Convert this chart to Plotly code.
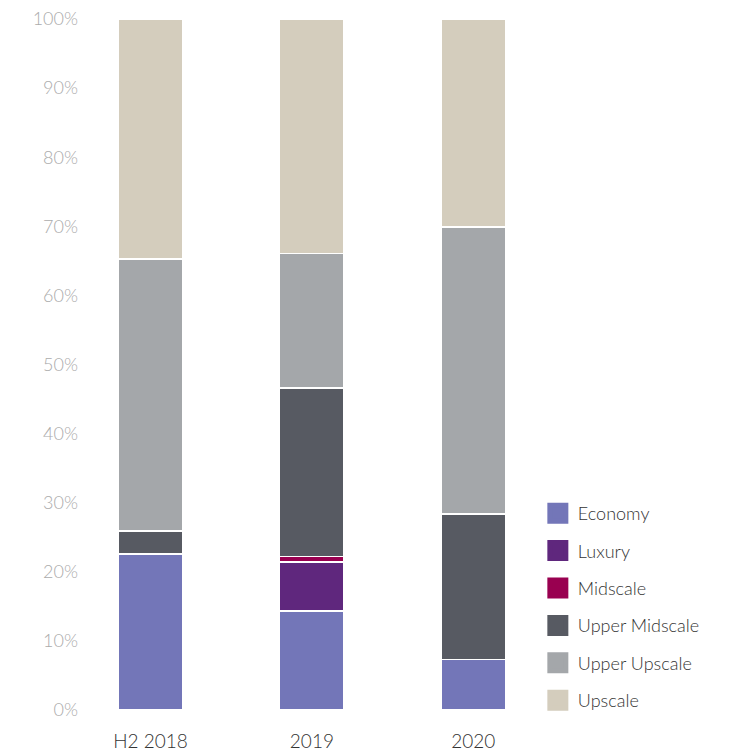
import plotly.graph_objects as go

categories = ["H2 2018", "2019", "2020"]
segments = ["Economy", "Luxury", "Midscale", "Upper Midscale", "Upper Upscale", "Upscale"]
economy = [22.6, 14.3, 7.3]
luxury = [0.0, 7.1, 0.0]
midscale = [0.0, 0.8, 0.0]
upper_midscale = [3.3, 24.4, 21.1]
upper_upscale = [39.4, 19.5, 41.5]
upscale = [34.7, 33.9, 30.1]
colors = ["#7376b8", "#5f277d", "#990050", "#575a62", "#a4a7aa", "#d4cdbd"]
y_ticks = list(range(0, 101, 10))
y_tick_text = [f"{v}%" for v in y_ticks]

series = [economy, luxury, midscale, upper_midscale, upper_upscale, upscale]

fig = go.Figure()
for name, vals, col in zip(segments, series, colors):
    fig.add_trace(go.Bar(
        x=categories, y=vals, name=name, showlegend=False,
        marker=dict(color=col, line=dict(color="white", width=1.5)),
        hoverinfo="skip",
    ))
for name, col in zip(segments, colors):
    fig.add_trace(go.Scatter(
        x=[None], y=[None], mode="markers", name=name, legendgroup=name,
        marker=dict(symbol="square", size=16, color=col, line=dict(color=col, width=5)),
    ))

fig.update_layout(
    width=753, height=751,
    barmode="stack", bargap=0.6,
    plot_bgcolor="white", paper_bgcolor="white",
    margin=dict(l=79, r=199, t=19, b=41),
    font=dict(family="Lato", size=18, color="#333333", weight=300),
    legend=dict(x=0.966, xanchor="left", y=-0.013, yanchor="bottom",
                traceorder="grouped",
                font=dict(family="Lato", size=18, color="#333333", weight=300),
                itemsizing="trace", tracegroupgap=11, bgcolor="rgba(0,0,0,0)"),
    xaxis=dict(range=[-0.443, 2.5], showgrid=False, showline=False, zeroline=False,
               automargin=False, ticks="outside", ticklen=14, tickcolor="rgba(0,0,0,0)",
               tickfont=dict(family="Lato", size=19, color="#333333", weight=300)),
    yaxis=dict(range=[0, 100], tickvals=y_ticks, ticktext=y_tick_text,
               showgrid=False, showline=False, zeroline=False, automargin=False,
               tickfont=dict(family="Lato", size=18, color="#ababab", weight=300)),
)

fig.write_html("out.html")
